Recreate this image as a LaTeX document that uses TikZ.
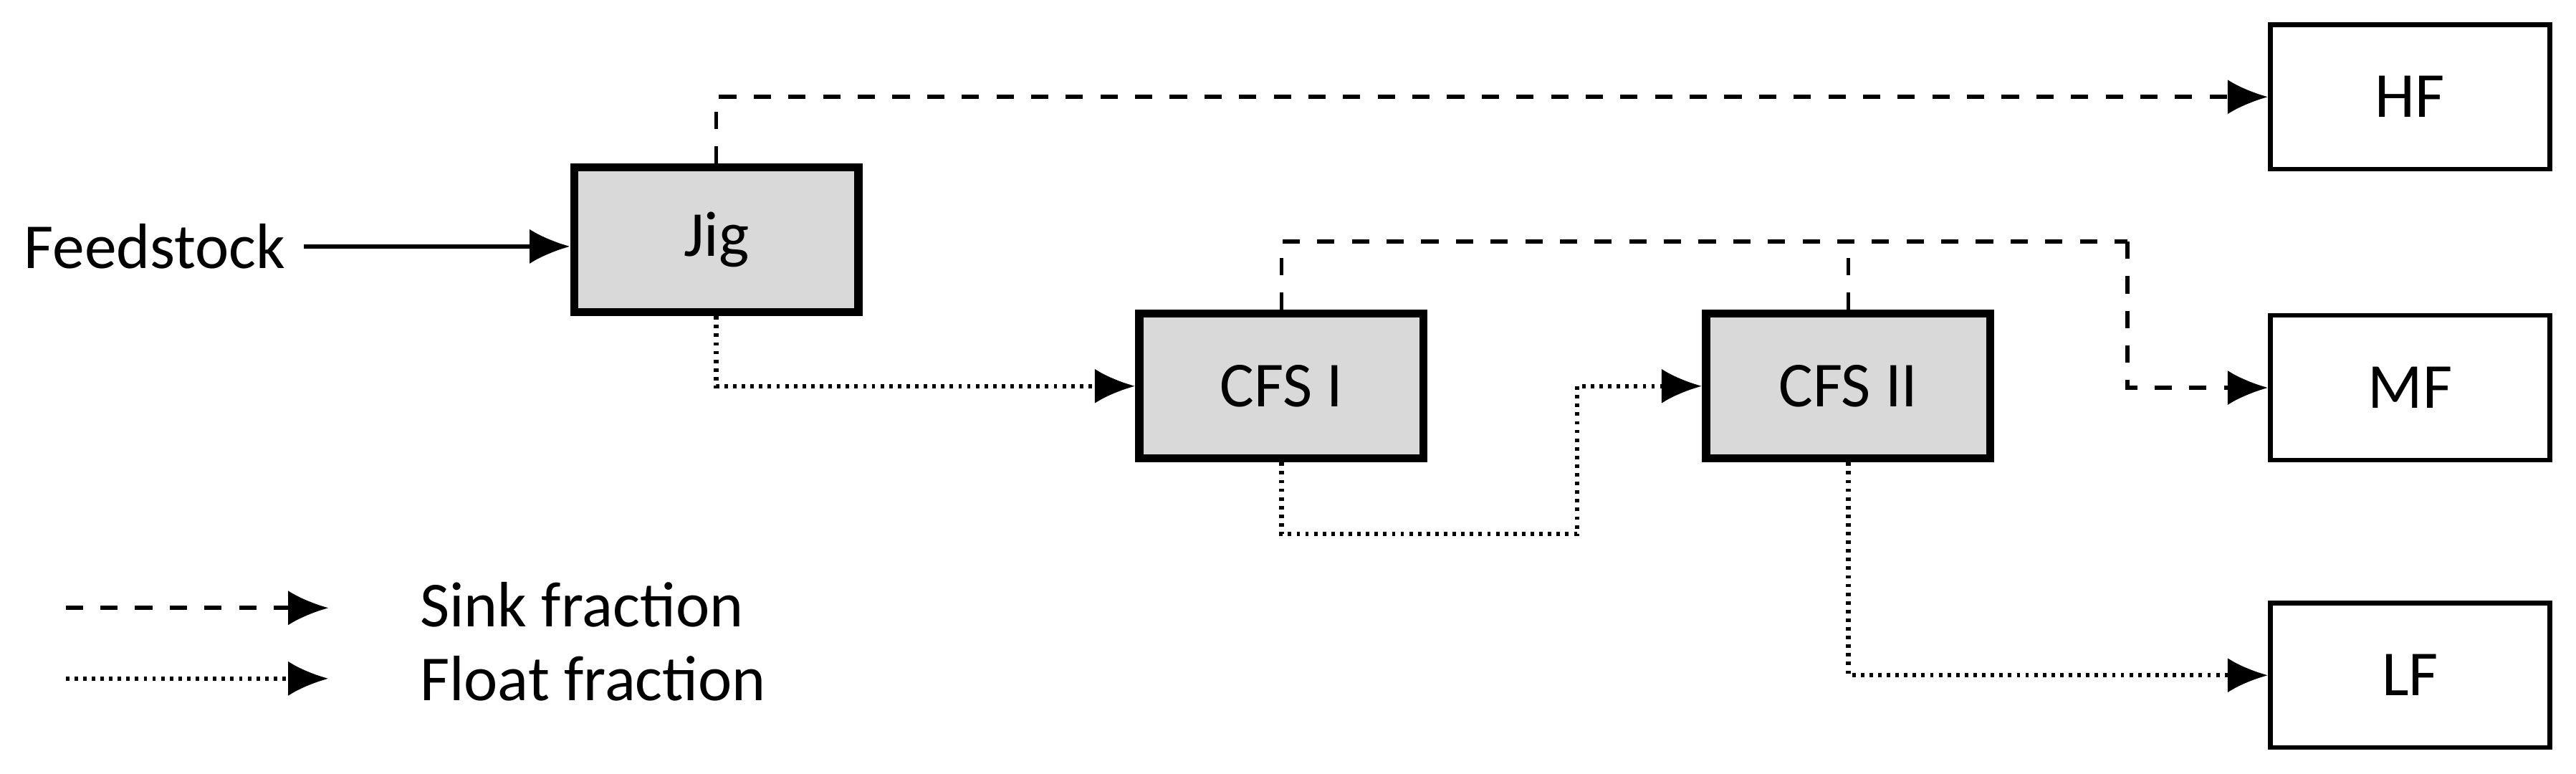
\documentclass[tikz,border=0pt]{standalone}
\usepackage{fontspec}
\setmainfont{Carlito}
\usetikzlibrary{arrows.meta}
\begin{document}
\begin{tikzpicture}[x=0.01cm,y=-0.01cm,font=\fontsize{11.1}{13}\selectfont,
  proc/.style={draw,line width=1.4pt,fill=gray!30,minimum width=1.73cm,minimum height=0.88cm,inner sep=0},
  outb/.style={draw,line width=0.8pt,fill=white,minimum width=1.7cm,minimum height=0.88cm,inner sep=0},
  sink/.style={dashed,line width=0.7pt,-{Latex[length=7pt,width=6pt]}},
  flt/.style={dash pattern=on 0.6pt off 0.9pt,line width=0.8pt,-{Latex[length=7pt,width=6pt]}},
  solid arrow/.style={line width=0.7pt,-{Latex[length=7pt,width=6pt]}}]
\useasboundingbox (0,0) rectangle (1568,471);
\node[proc] (jig) at (436,146) {Jig};
\node[proc] (c1) at (780,235) {CFS I};
\node[proc] (c2) at (1125,235) {CFS II};
\node[outb] (hf) at (1467,59) {HF};
\node[outb] (mf) at (1467,236) {MF};
\node[outb] (lf) at (1467,411) {LF};
\node[anchor=west,inner sep=0] (feed) at (14,150) {Feedstock};
\coordinate (fa) at (185,150);
\draw[solid arrow] (fa) -- (jig.west|-fa);
\draw[sink] (jig.north) |- (hf.west);
\coordinate (top) at (1295,147);
\draw[dashed,line width=0.7pt] (c1.north) |- (top);
\draw[dashed,line width=0.7pt] (c2.north) -- (c2.north|-top);
\draw[sink] (top) |- (mf.west);
\draw[flt] (jig.south) |- (c1.west);
\coordinate (m1) at (960,325);
\coordinate (m2) at (960,235);
\draw[flt] (c1.south) |- (m1) -- (m2) -- (c2.west);
\draw[flt] (c2.south) |- (lf.west);
\coordinate (l1) at (40,370);
\coordinate (l2) at (200,370);
\coordinate (l3) at (40,413);
\coordinate (l4) at (200,413);
\draw[sink] (l1) -- (l2);
\draw[flt] (l3) -- (l4);
\node[anchor=west,inner sep=0] (sk) at (255,368) {Sink fraction};
\node[anchor=west,inner sep=0] (fl) at (255,413) {Float fraction};
\end{tikzpicture}
\end{document}
